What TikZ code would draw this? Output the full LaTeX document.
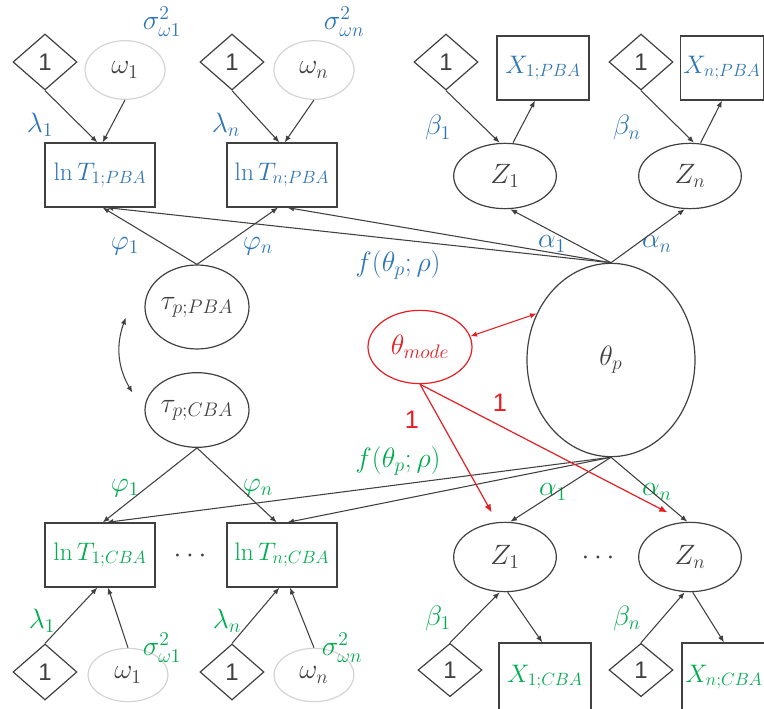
\RequirePackage{fix-cm}
\documentclass[tikz,border=0pt]{standalone}
\usepackage{fontspec}
\newfontfamily\onefont{Liberation Sans}
\usetikzlibrary{arrows.meta,shapes.geometric}
\definecolor{pbablue}{RGB}{46,117,182}
\definecolor{cbagreen}{RGB}{0,172,80}
\definecolor{modered}{RGB}{230,30,36}
\definecolor{edgegray}{RGB}{64,64,64}
\definecolor{errgray}{RGB}{212,212,212}

\begin{document}
\begin{tikzpicture}[x=0.75pt,y=-0.75pt,
  every node/.style={font=\fontsize{21}{25}\selectfont, text=edgegray},
  box/.style={draw=edgegray, line width=0.9pt, rectangle, minimum width=82.5pt, minimum height=48pt, inner sep=0pt, font=\fontsize{19}{23}\selectfont},
  lat/.style={draw=edgegray, line width=0.9pt, ellipse, inner sep=0pt},
  err/.style={draw=errgray, line width=0.9pt, ellipse, minimum width=60pt, minimum height=44pt, inner sep=0pt},
  unit/.style={draw=edgegray, line width=0.9pt, diamond, minimum width=48pt, minimum height=42pt, inner sep=0pt, font=\onefont\fontsize{18}{20}\selectfont},
  reg/.style={draw=edgegray, line width=0.8pt, -{Latex[length=5pt,width=4pt]}},
  cov/.style={draw=edgegray, line width=0.8pt, {Latex[length=5pt,width=4pt]}-{Latex[length=5pt,width=4pt]}},
  redreg/.style={draw=modered, line width=0.9pt, -{Latex[length=6pt,width=5pt]}},
  lbl/.style={inner sep=0pt}]
\useasboundingbox (0,0) rectangle (764,709);

\node[unit] (oneA1) at (45,62) {1};
\node[err] (omA1) at (125,70) {$\omega_1$};
\node[box, text=pbablue] (TA1) at (100,175) {$\ln T_{1;PBA}$};
\node[unit] (oneAn) at (232,62) {1};
\node[err] (omAn) at (314,70) {$\omega_n$};
\node[box, text=pbablue] (TAn) at (282,175) {$\ln T_{n;PBA}$};
\node[lbl, text=pbablue] (sA1) at (162,22) {$\sigma^2_{\omega1}$};
\node[lbl, text=pbablue] (sAn) at (344,22) {$\sigma^2_{\omega n}$};
\node[lbl, text=pbablue] (lA1) at (40,125) {$\lambda_1$};
\node[lbl, text=pbablue] (lAn) at (226,125) {$\lambda_n$};

\node[unit] (oneB1) at (446,62) {1};
\node[box, text=pbablue, minimum width=69pt] (XA1) at (543,68) {$X_{1;PBA}$};
\node[lat, minimum width=77pt, minimum height=49pt] (ZA1) at (505,176) {$Z_1$};
\node[unit] (oneBn) at (641,62) {1};
\node[box, text=pbablue, minimum width=62pt] (XAn) at (722,68) {$X_{n;PBA}$};
\node[lat, minimum width=77pt, minimum height=49pt] (ZAn) at (690,176) {$Z_n$};
\node[lbl, text=pbablue] (bA1) at (438,128) {$\beta_1$};
\node[lbl, text=pbablue] (bAn) at (627,128) {$\beta_n$};

\node[lat, minimum width=126pt, minimum height=145pt] (theta) at (611,360) {$\theta_p$};
\node[lat, minimum width=78pt, minimum height=63pt] (tauA) at (197,307) {$\tau_{p;PBA}$};
\node[lat, minimum width=78pt, minimum height=56pt] (tauB) at (197,410) {$\tau_{p;CBA}$};
\node[lat, draw=modered, text=modered, minimum width=78pt, minimum height=55pt] (mode) at (420,347) {$\theta_{mode}$};

\node[lbl, text=pbablue] (pA1) at (125,246) {$\varphi_1$};
\node[lbl, text=pbablue] (pAn) at (258,246) {$\varphi_n$};
\node[lbl, text=pbablue] (fA) at (398,265) {$f(\theta_p;\rho)$};
\node[lbl, text=pbablue] (aA1) at (552,244) {$\alpha_1$};
\node[lbl, text=pbablue] (aAn) at (657,244) {$\alpha_n$};

\node[lbl, text=cbagreen] (pB1) at (125,488) {$\varphi_1$};
\node[lbl, text=cbagreen] (pBn) at (258,488) {$\varphi_n$};
\node[lbl, text=cbagreen] (fB) at (398,461) {$f(\theta_p;\rho)$};
\node[lbl, text=cbagreen] (aB1) at (553,492) {$\alpha_1$};
\node[lbl, text=cbagreen] (aBn) at (657,492) {$\alpha_n$};
\node[lbl, text=modered, font=\onefont\fontsize{19}{21}\selectfont] (rone1) at (412,420) {1};
\node[lbl, text=modered, font=\onefont\fontsize{19}{21}\selectfont] (rone2) at (500,403) {1};

\node[box, text=cbagreen] (TB1) at (100,555) {$\ln T_{1;CBA}$};
\node[lbl] (dotsT) at (190,556) {$\cdots$};
\node[box, text=cbagreen] (TBn) at (282,555) {$\ln T_{n;CBA}$};
\node[unit] (oneC1) at (45,672) {1};
\node[err, minimum height=40pt] (omC1) at (128,675) {$\omega_1$};
\node[unit] (oneCn) at (232,672) {1};
\node[err, minimum height=40pt] (omCn) at (314,675) {$\omega_n$};
\node[lbl, text=cbagreen] (lB1) at (42,621) {$\lambda_1$};
\node[lbl, text=cbagreen] (lBn) at (227,621) {$\lambda_n$};
\node[lbl, text=cbagreen] (sB1) at (162,648) {$\sigma^2_{\omega1}$};
\node[lbl, text=cbagreen] (sBn) at (342,648) {$\sigma^2_{\omega n}$};

\node[lat, minimum width=77pt, minimum height=52pt] (ZB1) at (505,557) {$Z_1$};
\node[lbl] (dotsZ) at (598,558) {$\cdots$};
\node[lat, minimum width=77pt, minimum height=52pt] (ZBn) at (690,557) {$Z_n$};
\node[unit, minimum height=40pt] (oneD1) at (450,670) {1};
\node[box, text=cbagreen, minimum width=69pt, minimum height=51pt] (XB1) at (545,677) {$X_{1;CBA}$};
\node[unit, minimum height=40pt] (oneDn) at (641,670) {1};
\node[box, text=cbagreen, minimum width=63pt, minimum height=51pt] (XBn) at (724,677) {$X_{n;CBA}$};
\node[lbl, text=cbagreen] (bB1) at (438,618) {$\beta_1$};
\node[lbl, text=cbagreen] (bBn) at (627,618) {$\beta_n$};

\draw[reg] (oneA1.south) -- ([xshift=-2pt]TA1.north);
\draw[reg] (omA1.south) -- ([xshift=2pt]TA1.north);
\draw[reg] (oneAn.south) -- ([xshift=-2pt]TAn.north);
\draw[reg] (omAn.south) -- ([xshift=2pt]TAn.north);
\draw[reg] (oneB1.south) -- ([xshift=-4pt]ZA1.north);
\draw[reg] ([xshift=6pt]ZA1.north) -- ([xshift=-6pt]XA1.south);
\draw[reg] (oneBn.south) -- ([xshift=3pt]ZAn.north);
\draw[reg] ([xshift=8pt]ZAn.north) -- (XAn.south);

\draw[reg] (tauA.north) -- ([xshift=2pt]TA1.south);
\draw[reg] (tauA.north) -- ([xshift=-3pt]TAn.south);
\draw[reg] (theta.north) -- ([xshift=5pt]TA1.south);
\draw[reg] (theta.north) -- ([xshift=4pt]TAn.south);
\draw[reg] (theta.north) -- ([xshift=4pt]ZA1.south);
\draw[reg] (theta.north) -- ([xshift=-4pt]ZAn.south);
\draw[cov] ([xshift=-14pt,yshift=-8pt]tauA.west) to[bend right=25] ([xshift=-9pt,yshift=13pt]tauB.west);
\draw[cov, draw=modered] (mode.12) -- (theta.148);

\draw[reg] (tauB.south) -- ([xshift=2pt]TB1.north);
\draw[reg] (tauB.south) -- ([xshift=-4pt]TBn.north);
\draw[reg] (theta.south) -- ([xshift=5pt]TB1.north);
\draw[reg] (theta.south) -- ([xshift=4pt]TBn.north);
\draw[reg] (theta.south) -- ([xshift=4pt]ZB1.north);
\draw[reg] (theta.south) -- ([xshift=-2pt]ZBn.north);
\draw[redreg] (mode.south) -- ([xshift=-10pt,yshift=7pt]ZB1.north);
\draw[redreg] (mode.south) -- ([xshift=-17pt,yshift=7pt]ZBn.north);

\draw[reg] (oneC1.north) -- ([xshift=-2pt]TB1.south);
\draw[reg] (omC1.north) -- ([xshift=6pt]TB1.south);
\draw[reg] (oneCn.north) -- ([xshift=-2pt]TBn.south);
\draw[reg] (omCn.north) -- ([xshift=6pt]TBn.south);
\draw[reg] (oneD1.north) -- ([xshift=-4pt]ZB1.south);
\draw[reg] ([xshift=2pt]ZB1.south) -- ([xshift=-2pt]XB1.north);
\draw[reg] (oneDn.north) -- ([xshift=-4pt]ZBn.south);
\draw[reg] ([xshift=2pt]ZBn.south) -- (XBn.north);
\end{tikzpicture}
\end{document}
